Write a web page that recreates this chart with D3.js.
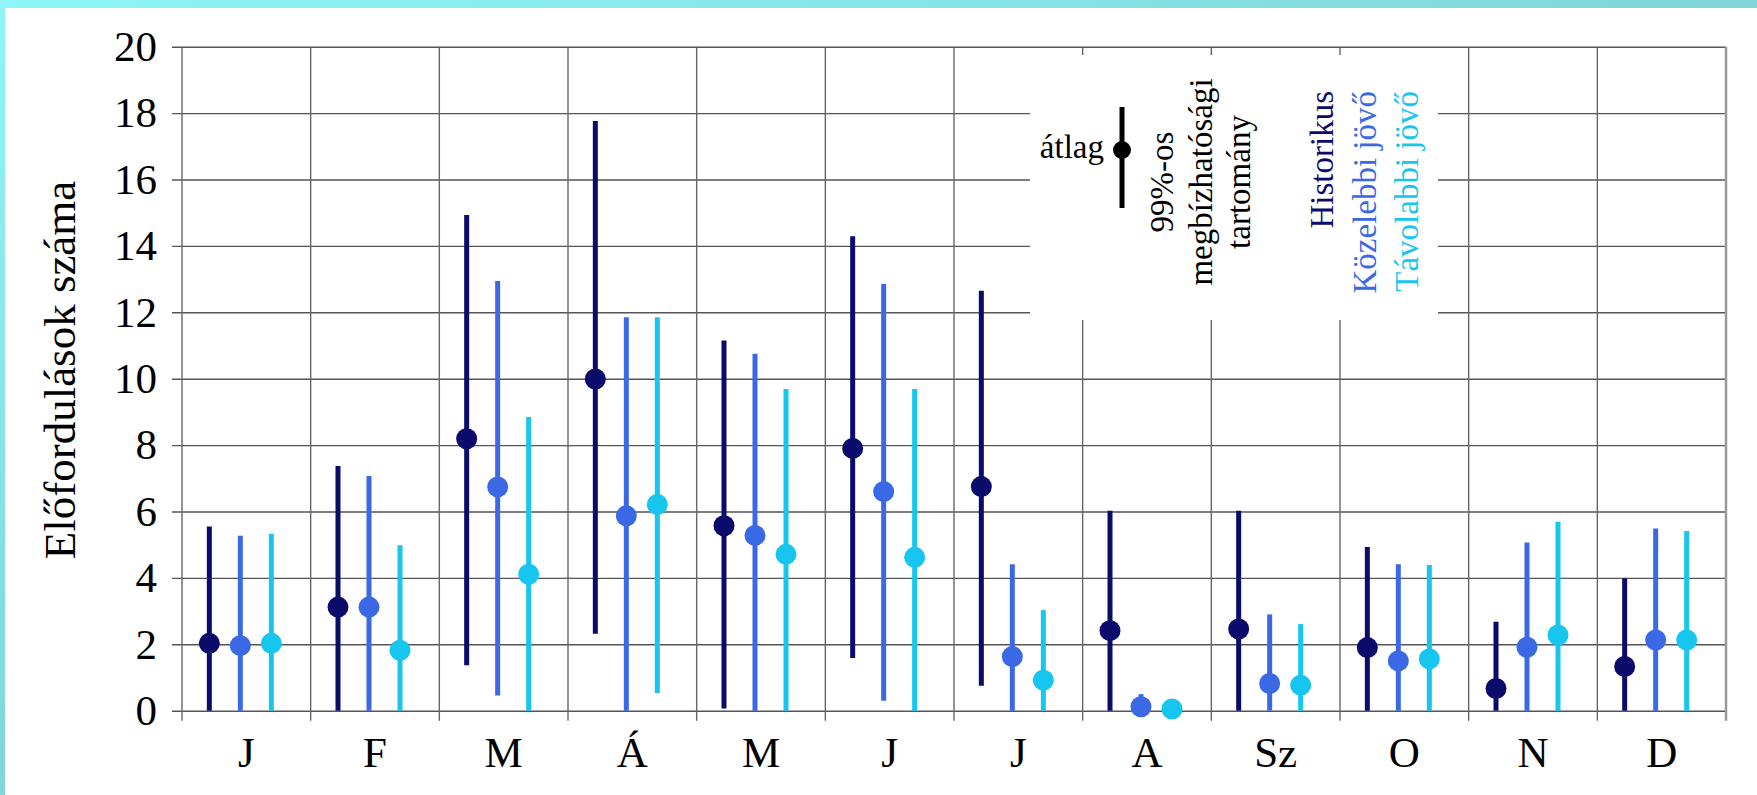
<html><head>
<meta charset="utf-8">
<title>Előfordulások száma</title>
<script src="https://d3js.org/d3.v7.min.js"></script>
<style>
  body { margin: 0; background: #fff; }
  text { font-family: "Liberation Serif", "DejaVu Serif", serif; }
</style>
</head>
<body>
<div id="chart"></div>
<script>

// month labels (Hungarian initials)
var months = ["J", "F", "M", "Á", "M", "J", "J", "A", "Sz", "O", "N", "D"];
var seriesNames = ["Historikus", "Közelebbi jövő", "Távolabbi jövő"];
var yTicks = [0, 2, 4, 6, 8, 10, 12, 14, 16, 18, 20];

// mean values
var histMean = [2.03, 3.12, 8.19, 9.99, 5.57, 7.9, 6.75, 2.41, 2.46, 1.9, 0.67, 1.33];
var nearMean = [1.96, 3.12, 6.74, 5.87, 5.28, 6.6, 1.63, 0.12, 0.82, 1.5, 1.91, 2.13];
var farMean  = [2.03, 1.82, 4.11, 6.21, 4.71, 4.62, 0.92, 0.05, 0.77, 1.56, 2.28, 2.13];

// 99% confidence range
var histLo = [0, 0, 1.37, 2.32, 0.07, 1.59, 0.75, 0, 0, 0, 0, 0];
var histHi = [5.55, 7.37, 14.93, 17.76, 11.15, 14.29, 12.65, 6.02, 6.02, 4.93, 2.68, 3.99];
var nearLo = [0, 0, 0.46, 0, 0, 0.3, 0, 0, 0, 0, 0, 0];
var nearHi = [5.27, 7.07, 12.94, 11.85, 10.75, 12.85, 4.41, 0.5, 2.9, 4.41, 5.07, 5.49];
var farLo  = [0, 0, 0, 0.53, 0, 0, 0, 0, 0, 0, 0, 0];
var farHi  = [5.33, 4.98, 8.85, 11.85, 9.69, 9.69, 3.03, 0.1, 2.61, 4.39, 5.69, 5.41];

var colors = ["#0b0b6c", "#3b69e6", "#17c6ee"];

var W = 1757, H = 795;
// plot box (window.top is reserved, so prefixed names)
var pLeft = 182, pRight = 1726, pTop = 46.7, pBottom = 710.7;

var svg = d3.select("#chart").append("svg")
    .attr("width", W)
    .attr("height", H);

// teal frame behind the white page
var grad = svg.append("defs").append("linearGradient")
    .attr("id", "frame")
    .attr("x1", "0").attr("y1", "0").attr("x2", "1").attr("y2", "1");
grad.append("stop").attr("offset", "0").attr("stop-color", "#8ff5f7");
grad.append("stop").attr("offset", "0.5").attr("stop-color", "#80d6d8");
grad.append("stop").attr("offset", "1").attr("stop-color", "#65a3a3");

svg.append("rect").attr("width", W).attr("height", H).attr("fill", "url(#frame)");
svg.append("rect").attr("x", 5).attr("y", 8).attr("width", W - 5).attr("height", H - 8).attr("fill", "#fff");

var idx = d3.range(months.length);

var x = d3.scaleBand()
    .domain(idx)
    .range([pLeft, pRight]);

var xEdge = d3.scaleLinear()
    .domain([0, months.length])
    .range([pLeft, pRight]);

var y = d3.scaleLinear()
    .domain([0, 20])
    .range([pBottom, pTop]);

// offset of each series inside a month
var sx = d3.scalePoint()
    .domain(seriesNames)
    .range([-37, 25]);

// horizontal grid + left tick marks
svg.append("g")
    .attr("transform", "translate(" + (pLeft - 10) + ",0)")
    .call(d3.axisRight(y).tickValues(yTicks).tickSize(pRight - pLeft + 10).tickFormat(""))
    .call(function(g) {
      g.select(".domain").remove();
      g.selectAll(".tick line").attr("stroke", "#555").attr("stroke-width", 1.4);
    });

// vertical separators, reaching below the axis
svg.append("g")
  .selectAll("line")
  .data(d3.range(months.length + 1))
  .enter().append("line")
    .attr("x1", function(d) { return xEdge(d); })
    .attr("x2", function(d) { return xEdge(d); })
    .attr("y1", pTop)
    .attr("y2", pBottom + 10)
    .attr("stroke", function(d) { return d == months.length ? "#999" : "#666"; })
    .attr("stroke-width", function(d) { return d == months.length ? 2.5 : 1.4; });

// y tick labels
svg.append("g")
    .attr("transform", "translate(" + pLeft + ",0)")
    .call(d3.axisLeft(y).tickValues(yTicks).tickSize(0).tickPadding(25))
    .call(function(g) {
      g.select(".domain").remove();
      g.selectAll("text")
        .attr("fill", "#000")
        .style("font-family", "Liberation Serif")
        .style("font-size", "43px");
    });

// month labels
svg.append("g")
  .selectAll("text")
  .data(idx)
  .enter().append("text")
    .attr("x", function(d) { return x(d) + x.bandwidth() / 2; })
    .attr("y", 767)
    .attr("text-anchor", "middle")
    .style("font-size", "43px")
    .text(function(d) { return months[d]; });

// y axis title
svg.append("text")
    .attr("transform", "translate(75,370) rotate(-90)")
    .attr("text-anchor", "middle")
    .style("font-size", "45px")
    .text("Előfordulások száma");

// white box behind the legend
svg.append("rect")
    .attr("x", 1030).attr("y", 55)
    .attr("width", 408).attr("height", 265)
    .attr("fill", "#fff");

// error bars and means
var series = [
  { name: seriesNames[0], mean: histMean, lo: histLo, hi: histHi },
  { name: seriesNames[1], mean: nearMean, lo: nearLo, hi: nearHi },
  { name: seriesNames[2], mean: farMean, lo: farLo, hi: farHi }
];

series.forEach(function(s, i) {
  var g = svg.append("g");
  var cx = function(d) { return x(d) + x.bandwidth() / 2 + sx(s.name); };

  g.selectAll("line")
    .data(idx)
    .enter().append("line")
      .attr("x1", cx)
      .attr("x2", cx)
      .attr("y1", function(d) { return y(s.lo[d]); })
      .attr("y2", function(d) { return y(s.hi[d]); })
      .attr("stroke", colors[i])
      .attr("stroke-width", 5);

  g.selectAll("circle")
    .data(idx)
    .enter().append("circle")
      .attr("cx", cx)
      .attr("cy", function(d) { return y(s.mean[d]); })
      .attr("r", 10.5)
      .attr("fill", colors[i]);
});

// legend: marker explanation
svg.append("text")
    .attr("x", 1104).attr("y", 158)
    .attr("text-anchor", "end")
    .style("font-size", "33px")
    .text("átlag");

svg.append("line")
    .attr("x1", 1122).attr("x2", 1122)
    .attr("y1", 107).attr("y2", 208)
    .attr("stroke", "#000")
    .attr("stroke-width", 5);

svg.append("circle")
    .attr("cx", 1122).attr("cy", 150)
    .attr("r", 9)
    .attr("fill", "#000");

var rangeLines = ["99%-os", "megbízhatósági", "tartomány"];
svg.append("g")
  .selectAll("text")
  .data(rangeLines)
  .enter().append("text")
    .attr("transform", function(d, i) { return "translate(" + (1173 + i * 38.5) + ",182) rotate(-90)"; })
    .attr("text-anchor", "middle")
    .style("font-size", "33px")
    .text(function(d) { return d; });

// legend: series names
svg.append("g")
  .selectAll("text")
  .data(seriesNames)
  .enter().append("text")
    .attr("transform", function(d, i) { return "translate(" + (1333 + i * 42.5) + ",91) rotate(-90)"; })
    .attr("text-anchor", "end")
    .attr("fill", function(d, i) { return colors[i]; })
    .style("font-size", "33px")
    .text(function(d) { return d; });

</script>
</body></html>
